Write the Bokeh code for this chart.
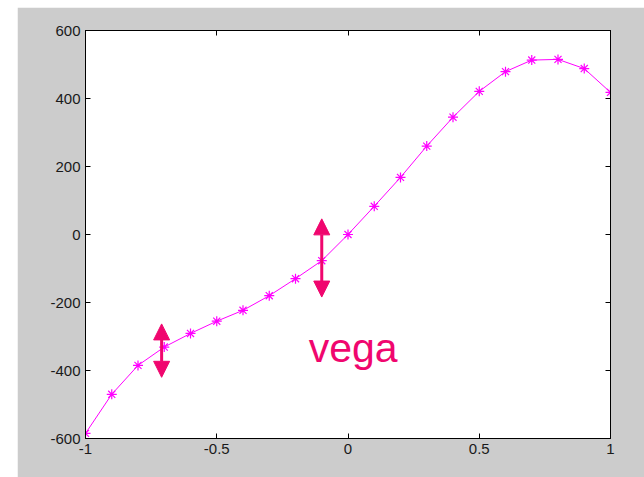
from bokeh.plotting import figure
from bokeh.models import (LinearAxis, FixedTicker, Arrow, NormalHead, Range1d,
                          Label, ColumnDataSource, NumeralTickFormatter,
                          CustomJSTickFormatter)
from bokeh.embed import file_html
from bokeh.resources import INLINE

# ---- data ----
x_values = [-1.0, -0.9, -0.8, -0.7, -0.6, -0.5, -0.4, -0.3, -0.2, -0.1, 0.0,
            0.1, 0.2, 0.3, 0.4, 0.5, 0.6, 0.7, 0.8, 0.9, 1.0]
y_values = [-585, -470, -385, -331, -291, -255, -223, -180, -130, -77, 0,
            83, 168, 260, 345, 421, 479, 513, 515, 488, 418]
x_ticks = [-1, -0.5, 0, 0.5, 1]
y_ticks = [-600, -400, -200, 0, 200, 400, 600]

# annotations (double-headed arrows and label)
arrow_x = [-0.71, -0.1]
arrow_top = [-263, 46]
arrow_bottom = [-420, -184]
label_text = "vega"
label_pos = (-0.15, -335)

LINE_COLOR = "#FF00FF"
ACCENT = "#F0066E"
GREY = "#CCCCCC"

p = figure(width=627, height=470, output_backend="svg", toolbar_location=None,
           x_range=Range1d(-1, 1), y_range=Range1d(-600, 600),
           min_border_left=68, min_border_right=34, min_border_top=23,
           min_border_bottom=39,
           styles={"margin-top": "7px", "margin-left": "17px"})
p.background_fill_color = "white"
p.border_fill_color = GREY
p.outline_line_color = "black"
p.outline_line_width = 1
p.xgrid.visible = False
p.ygrid.visible = False


def style_axis(ax, ticks, show_labels=True, fmt="0.[0]"):
    ax.ticker = FixedTicker(ticks=ticks)
    ax.major_tick_in = 5
    ax.major_tick_out = 0
    ax.minor_tick_line_color = None
    ax.axis_line_color = "black"
    ax.major_tick_line_color = "black"
    ax.major_label_text_font = "Liberation Sans"
    ax.major_label_text_font_size = "15px"
    ax.major_label_text_color = "#1a1a1a"
    ax.major_label_standoff = 5
    if show_labels:
        ax.formatter = NumeralTickFormatter(format=fmt)
    else:
        ax.formatter = CustomJSTickFormatter(code="return ''")


style_axis(p.xaxis[0], x_ticks)
style_axis(p.yaxis[0], y_ticks, fmt="0")
top_axis = LinearAxis()
style_axis(top_axis, x_ticks, show_labels=False)
p.add_layout(top_axis, "above")
right_axis = LinearAxis()
style_axis(right_axis, y_ticks, show_labels=False)
p.add_layout(right_axis, "right")

src = ColumnDataSource(data=dict(x=x_values, y=y_values))
p.line("x", "y", source=src, line_color=LINE_COLOR, line_width=1)
p.scatter("x", "y", source=src, marker="asterisk", size=10,
          line_color=LINE_COLOR, line_width=1.2)

for ax_, top, bot in zip(arrow_x, arrow_top, arrow_bottom):
    p.add_layout(Arrow(
        start=NormalHead(size=16, fill_color=ACCENT, line_color=ACCENT),
        end=NormalHead(size=16, fill_color=ACCENT, line_color=ACCENT),
        x_start=ax_, y_start=bot, x_end=ax_, y_end=top,
        line_color=ACCENT, line_width=3))

p.add_layout(Label(x=label_pos[0], y=label_pos[1], text=label_text,
                   text_font="Liberation Sans", text_font_size="41px",
                   text_color=ACCENT, text_baseline="alphabetic",
                   text_align="left"))

open("out.html", "w").write(file_html(p, INLINE))
